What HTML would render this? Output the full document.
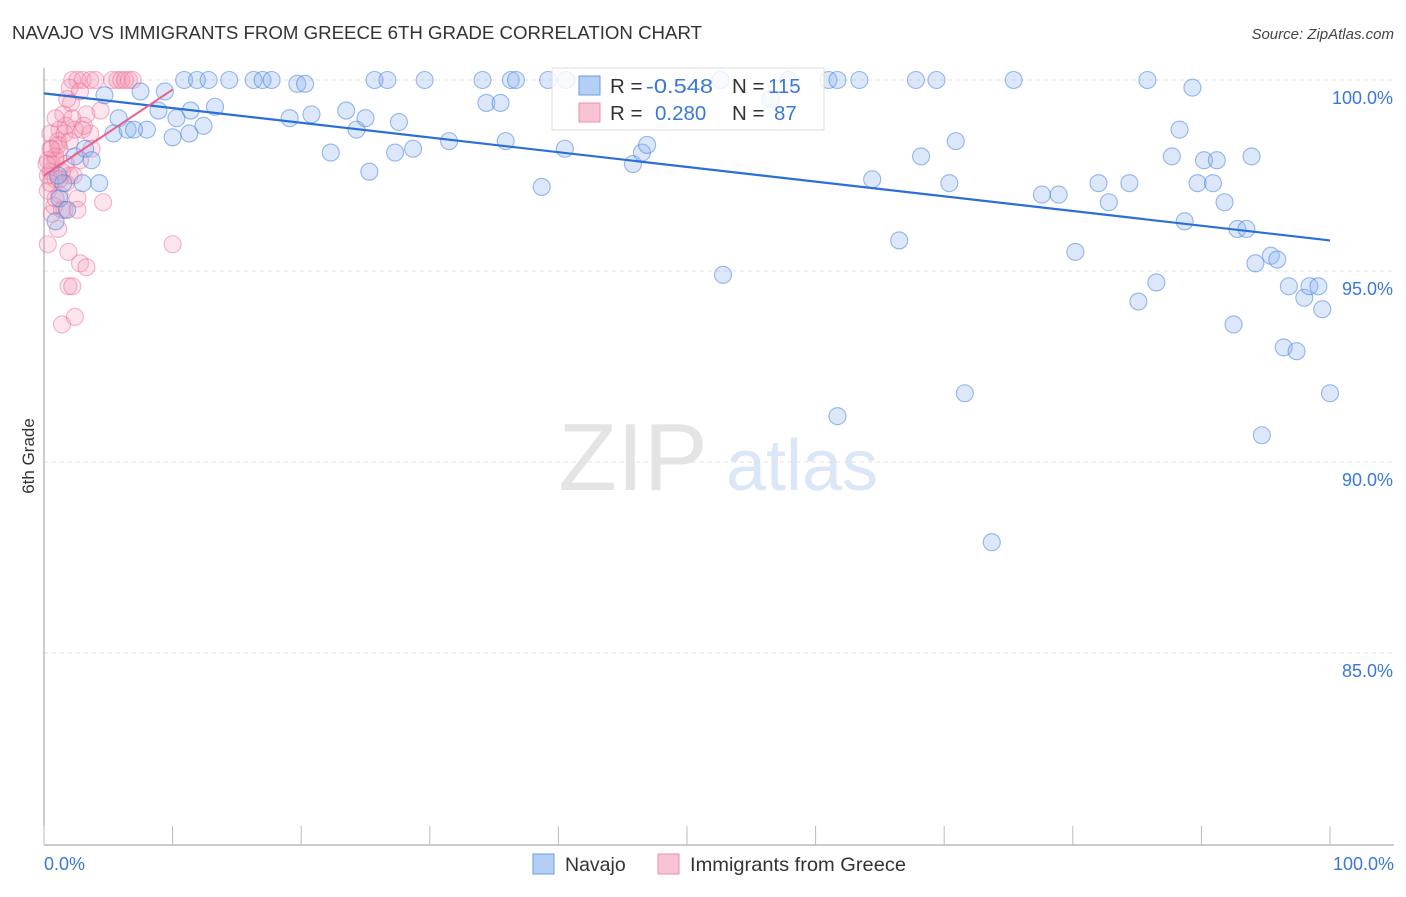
<!DOCTYPE html>
<html><head><meta charset="utf-8"><style>
body{margin:0;background:#fff;font-family:"Liberation Sans",sans-serif}
svg text{font-family:"Liberation Sans",sans-serif}
</style></head><body>
<svg id="chart" width="1406" height="892" viewBox="0 0 1406 892" xmlns="http://www.w3.org/2000/svg">
<text x="12" y="39" font-size="18" fill="#333" textLength="690" lengthAdjust="spacingAndGlyphs">NAVAJO VS IMMIGRANTS FROM GREECE 6TH GRADE CORRELATION CHART</text>
<text x="1394" y="39" font-size="15" font-style="italic" fill="#444" text-anchor="end">Source: ZipAtlas.com</text>
<text transform="translate(34,456) rotate(-90)" font-size="17" fill="#333" text-anchor="middle">6th Grade</text>
<g>
<text x="633" y="490" font-size="96" font-family="Liberation Serif" fill="#e4e4e4" text-anchor="middle">ZIP</text>
<text x="802" y="490" font-size="72" fill="#dbe7f6" text-anchor="middle">atlas</text>
</g>
<g id="grid"></g><g id="axes"></g><g id="pts"></g><g id="lines"></g>
<g>
<rect x="552" y="68" width="272" height="62" fill="#fff" fill-opacity="0.8" stroke="#ddd"/>
<rect x="579" y="76" width="21" height="19" fill="#b4cff3" stroke="#6a9de0"/>
<text x="610" y="93" font-size="20.5" fill="#333">R = </text><text x="646" y="93" font-size="20.5" fill="#3a78d6" textLength="67" lengthAdjust="spacingAndGlyphs">-0.548</text>
<text x="732" y="93" font-size="20.5" fill="#333">N = </text><text x="768" y="93" font-size="20.5" fill="#3a78d6">115</text>
<rect x="579" y="103" width="21" height="19" fill="#f8c4d3" stroke="#ec8faa"/>
<text x="610" y="120" font-size="20.5" fill="#333">R = </text><text x="655" y="120" font-size="20.5" fill="#3a78d6">0.280</text>
<text x="732" y="120" font-size="20.5" fill="#333">N = </text><text x="774" y="120" font-size="20.5" fill="#3a78d6">87</text>
</g>
<g>
<rect x="533" y="854" width="21" height="20" fill="#b4cff3" stroke="#6a9de0"/>
<text x="565" y="871" font-size="19.5" fill="#333">Navajo</text>
<rect x="658" y="854" width="21" height="20" fill="#f8c4d3" stroke="#ec8faa"/>
<text x="690" y="871" font-size="19.5" fill="#333" textLength="216" lengthAdjust="spacingAndGlyphs">Immigrants from Greece</text>
</g>
</svg>
<script>
const navX=[10.9,11.9,12.8,14.4,16.3,17.0,17.7,19.7,20.3,25.7,26.7,29.6,34.1,36.3,36.7,39.2,40.6,52.6,57.9,61.0,61.7,63.4,67.8,69.4,75.4,85.8,89.3,7.5,4.7,9.4,11.4,8.9,5.8,10.3,13.3,12.4,5.4,6.5,8.0,7.0,10.0,11.3,19.1,20.8,23.5,24.3,25.0,27.6,22.3,25.3,27.3,28.7,31.5,34.4,35.5,35.9,40.5,38.7,45.8,46.5,46.9,52.8,56.5,61.7,64.4,66.5,68.2,70.4,70.9,71.6,73.7,77.6,78.9,80.2,82.0,82.8,84.4,85.1,86.5,87.7,88.3,88.7,89.7,90.2,90.9,91.2,91.8,92.5,92.8,93.5,93.9,94.2,94.7,95.4,95.9,96.4,96.8,97.4,98.0,98.4,99.1,99.4,100,1.2,0.9,1.8,2.4,3.2,3.7,4.3,3.0,1.5,1.1];
const navY=[100,100,100,100,100,100,100,99.9,99.9,100,100,100,100,100,100,100,100,100,100,100,100,100,100,100,100,100,99.8,99.7,99.6,99.7,99.2,99.2,99.0,99.0,99.3,98.8,98.6,98.7,98.7,98.7,98.5,98.6,99.0,99.1,99.2,98.7,99.0,98.9,98.1,97.6,98.1,98.2,98.4,99.4,99.4,98.4,98.2,97.2,97.8,98.1,98.3,94.9,99.5,91.2,97.4,95.8,98.0,97.3,98.4,91.8,87.9,97.0,97.0,95.5,97.3,96.8,97.3,94.2,94.7,98.0,98.7,96.3,97.3,97.9,97.3,97.9,96.8,93.6,96.1,96.1,98.0,95.2,90.7,95.4,95.3,93.0,94.6,92.9,94.3,94.6,94.6,94.0,91.8,96.9,96.3,96.6,98.0,98.2,97.9,97.3,97.3,97.3,97.5];
const grX=[2.2,2.6,3.0,3.6,4.0,5.3,5.7,6.0,6.3,6.6,6.9,2.0,2.8,1.8,2.1,1.5,2.2,3.3,4.4,1.2,2.4,3.0,1.2,0.5,0.9,0.5,1.7,2.8,2.0,0.9,0.3,1.2,2.6,4.6,0.6,1.6,2.6,0.3,1.9,2.8,3.3,1.9,2.2,1.4,2.4,10.0,0.5,1.1,0.6,0.3,0.9,1.4,1.7,0.8,1.1,1.6,2.0,3.6,3.1,0.3,0.5,0.9,1.4,2.3,3.7,1.7,0.9,1.1,1.2,0.6,0.2];
const grY=[100,100,100,100,100,100,100,100,100,100,100,99.8,99.7,99.5,99.4,99.1,99.0,99.1,99.2,98.7,98.7,98.7,98.2,98.2,97.9,97.6,97.8,97.9,97.5,97.4,97.1,97.0,96.9,96.8,96.5,96.6,96.6,95.7,95.5,95.2,95.1,94.6,94.6,93.6,93.8,95.7,98.6,98.4,97.8,97.5,98.0,97.6,97.3,96.7,98.3,98.6,98.4,98.6,98.8,97.9,97.3,96.9,96.6,97.5,98.2,98.8,99.0,96.1,97.4,98.2,97.8];
const navLine=[[0,99.65],[100,95.8]];
const grLine=[[0,97.5],[10,99.75]];
const yTicks=[100,95,90,85];
const xTicks=[0,10,20,30,40,50,60,70,80,90,100];
const X=v=>44+v*12.86, Y=v=>80+(100-v)*38.2;
const NS="http://www.w3.org/2000/svg";
function mk(p,t,a){const e=document.createElementNS(NS,t);for(const k in a)e.setAttribute(k,a[k]);document.getElementById(p).appendChild(e);return e;}
yTicks.forEach(t=>{
 const l=mk('grid','line',{x1:44,x2:1394,y1:Y(t),y2:Y(t),stroke:'#e2e2e2','stroke-dasharray':'4 4'});
 
 
 const tx=mk('grid','text',{x:1393,y:Y(t)+24,'font-size':18,fill:'#3a78d6','text-anchor':'end'});
 tx.textContent=t.toFixed(1)+'%';
 
 
});
const ax=mk('axes','line',{x1:44,x2:44,y1:68,y2:845,stroke:'#999'});


const bx=mk('axes','line',{x1:44,x2:1394,y1:845,y2:845,stroke:'#999'});


xTicks.forEach(t=>{
 const l=mk('axes','line',{x1:X(t),x2:X(t),y1:826,y2:845,stroke:'#bbb'});
 
 
});
[[0,'0.0%',44,'start'],[100,'100.0%',1394,'end']].forEach(d=>{
 const t=mk('axes','text',{x:d[2],y:870,'font-size':18,fill:'#3a78d6','text-anchor':d[3]});
 t.textContent=d[1];
 
 
});
grX.forEach((v,i)=>{
 const c=mk('pts','circle',{cx:X(v),cy:Y(grY[i]),r:8.5,fill:'rgba(245,150,180,0.25)',stroke:'rgba(235,110,150,0.5)','stroke-width':1.1});
 
 
});
navX.forEach((v,i)=>{
 const c=mk('pts','circle',{cx:X(v),cy:Y(navY[i]),r:8.5,fill:'rgba(140,180,240,0.3)',stroke:'rgba(70,130,220,0.55)','stroke-width':1.1});
 
 
});
const nl=mk('lines','line',{x1:X(navLine[0][0]),y1:Y(navLine[0][1]),x2:X(navLine[1][0]),y2:Y(navLine[1][1]),stroke:'#2a6fd6','stroke-width':2.2});


const gl=mk('lines','line',{x1:X(grLine[0][0]),y1:Y(grLine[0][1]),x2:X(grLine[1][0]),y2:Y(grLine[1][1]),stroke:'#e8608a','stroke-width':2});


</script>
</body></html>
